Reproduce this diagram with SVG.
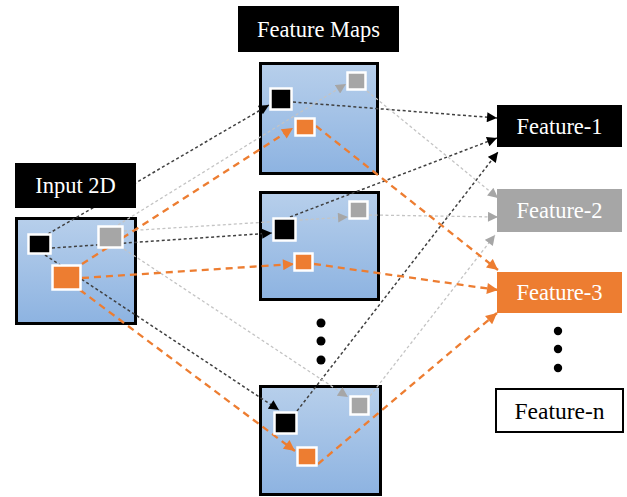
<svg xmlns="http://www.w3.org/2000/svg" width="627" height="497" viewBox="0 0 627 497">
<style>
.box{stroke:#000;stroke-width:3;fill:url(#blue)}
.lbl{font-family:"Liberation Serif","Times New Roman",serif;font-size:22.5px;text-anchor:middle}
.w{fill:#fff}
.k{fill:#000}
.cell{stroke:#fff;stroke-width:2.5}
.cb{fill:#000}
.cg{fill:#a6a6a6}
.co{fill:#ed7d31}
.lb{stroke:#404040;stroke-width:1.5;stroke-dasharray:3 2.5;fill:none;marker-end:url(#ab)}
.lg{stroke:#c4c4c4;stroke-width:1.3;stroke-dasharray:3 2.5;fill:none;marker-end:url(#ag)}
.lo{stroke:#ed7d31;stroke-width:2.3;stroke-dasharray:7 5;fill:none;marker-end:url(#ao)}
</style>
<defs>
<linearGradient id="blue" x1="0" y1="0" x2="0" y2="1">
<stop offset="0" stop-color="#b7cfeb"/>
<stop offset="1" stop-color="#8db3e1"/>
</linearGradient>
<marker id="ab" viewBox="0 0 10 10" refX="10" refY="5" markerWidth="11" markerHeight="10" markerUnits="userSpaceOnUse" orient="auto"><path d="M0,0 L10,5 L0,10 z" fill="#000"/></marker>
<marker id="ag" viewBox="0 0 10 10" refX="10" refY="5" markerWidth="11" markerHeight="10" markerUnits="userSpaceOnUse" orient="auto"><path d="M0,0 L10,5 L0,10 z" fill="#a6a6a6"/></marker>
<marker id="ao" viewBox="0 0 10 10" refX="10" refY="5" markerWidth="12" markerHeight="11" markerUnits="userSpaceOnUse" orient="auto"><path d="M0,0 L10,5 L0,10 z" fill="#ed7d31"/></marker>
</defs>

<g id="input-map"><rect class="box" x="16.5" y="218.5" width="119" height="105"/></g>
<g id="fmap-1"><rect class="box" x="260.5" y="63.5" width="117" height="110"/></g>
<g id="fmap-2"><rect class="box" x="260.5" y="192.5" width="118" height="107"/></g>
<g id="fmap-3"><rect class="box" x="260.5" y="386.5" width="120" height="108"/></g>

<g id="connectors">
<line class="lb" x1="48" y1="234" x2="269" y2="105"/>
<line class="lb" x1="52" y1="248" x2="272" y2="233"/>
<line class="lb" x1="45" y1="255" x2="279" y2="410"/>
<line class="lb" x1="293" y1="102" x2="497" y2="118"/>
<line class="lb" x1="290" y1="217" x2="497" y2="138"/>
<line class="lb" x1="297" y1="411" x2="498" y2="152"/>
<line class="lg" x1="118" y1="225" x2="346" y2="84"/>
<line class="lg" x1="124" y1="231" x2="348" y2="217"/>
<line class="lg" x1="124" y1="249" x2="348" y2="397"/>
<line class="lg" x1="367" y1="91" x2="498" y2="198"/>
<line class="lg" x1="369" y1="215" x2="498" y2="217"/>
<line class="lg" x1="370" y1="396" x2="495" y2="235"/>
<line class="lo" x1="82" y1="264" x2="293" y2="128"/>
<line class="lo" x1="82" y1="278" x2="294" y2="264"/>
<line class="lo" x1="80" y1="290" x2="295" y2="451"/>
<line class="lo" x1="316" y1="126" x2="498" y2="270"/>
<line class="lo" x1="314" y1="264" x2="498" y2="290"/>
<line class="lo" x1="318" y1="464" x2="497" y2="313"/>
</g>

<g id="input-cells">
<rect class="cell cb" x="28.5" y="234.5" width="22" height="19"/>
<rect class="cell cg" x="98.5" y="226.5" width="24" height="21"/>
<rect class="cell co" x="52.5" y="265.5" width="28" height="24"/>
</g>
<g id="fmap-1-cells">
<rect class="cell cb" x="270.5" y="88.5" width="21" height="21"/>
<rect class="cell cg" x="347.5" y="72.5" width="18" height="17"/>
<rect class="cell co" x="295.5" y="118.5" width="19" height="17"/>
</g>
<g id="fmap-2-cells">
<rect class="cell cb" x="273.5" y="218.5" width="22" height="22"/>
<rect class="cell cg" x="349.5" y="201.5" width="18" height="17"/>
<rect class="cell co" x="294.5" y="253.5" width="18" height="17"/>
</g>
<g id="fmap-3-cells">
<rect class="cell cb" x="274.5" y="412.5" width="22" height="21"/>
<rect class="cell cg" x="350.5" y="396.5" width="18" height="18"/>
<rect class="cell co" x="297.5" y="447.5" width="19" height="18"/>
</g>

<g id="fmap-dots">
<circle cx="321" cy="323" r="4.5"/>
<circle cx="321" cy="341" r="4.5"/>
<circle cx="321" cy="360" r="4.5"/>
</g>

<g id="label-input">
<rect x="15" y="163" width="121" height="45" fill="#000"/>
<text class="lbl w" x="75.5" y="193">Input 2D</text>
</g>
<g id="label-fmaps">
<rect x="238" y="6" width="161" height="46" fill="#000"/>
<text class="lbl w" x="318.5" y="37">Feature Maps</text>
</g>
<g id="feature-1">
<rect x="497" y="105" width="125" height="42" fill="#000"/>
<text class="lbl w" x="559.5" y="134">Feature-1</text>
</g>
<g id="feature-2">
<rect x="497" y="189" width="125" height="43" fill="#a6a6a6"/>
<text class="lbl w" x="559.5" y="218">Feature-2</text>
</g>
<g id="feature-3">
<rect x="497" y="272" width="125" height="41" fill="#ed7d31"/>
<text class="lbl w" x="559.5" y="300">Feature-3</text>
</g>
<g id="feature-dots">
<circle cx="558" cy="331" r="4.2"/>
<circle cx="558" cy="349" r="4.2"/>
<circle cx="558" cy="368" r="4.2"/>
</g>
<g id="feature-n">
<rect x="496" y="389" width="127" height="43" fill="#fff" stroke="#000" stroke-width="2"/>
<text class="lbl k" x="559.5" y="419" style="font-size:23.5px">Feature-n</text>
</g>
</svg>
